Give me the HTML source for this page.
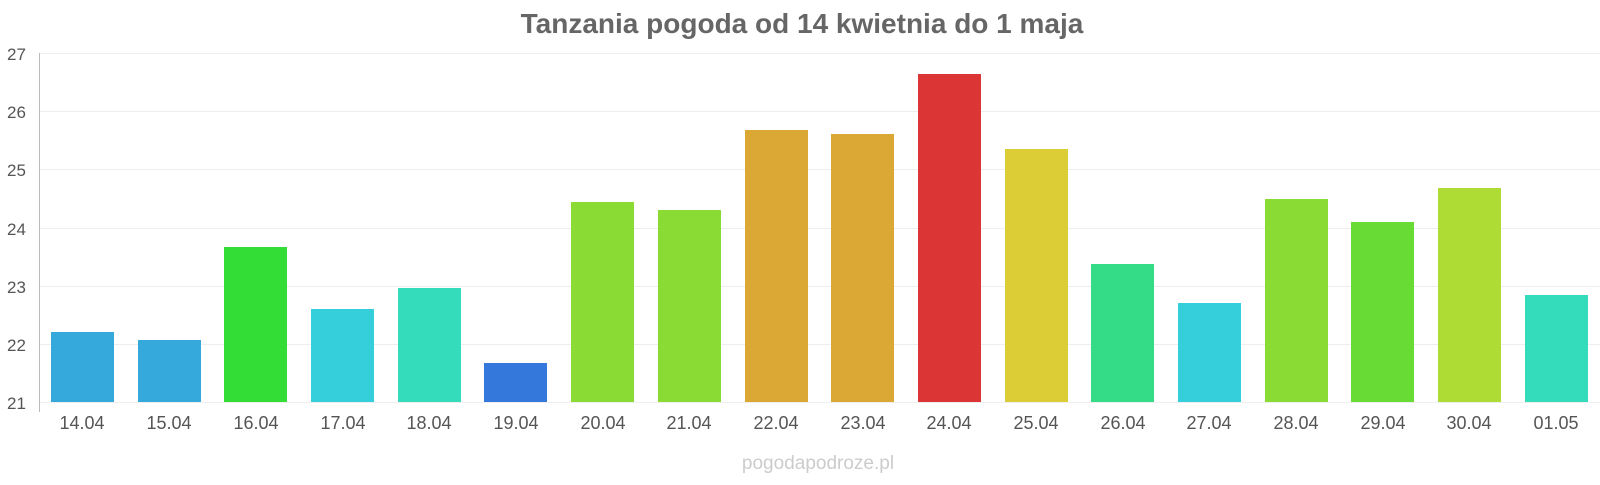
<!DOCTYPE html>
<html><head><meta charset="utf-8"><style>
body{margin:0;background:#fff;width:1600px;height:480px;overflow:hidden;font-family:"Liberation Sans",sans-serif}
</style></head><body>
<svg width="1600" height="480" xmlns="http://www.w3.org/2000/svg" font-family="Liberation Sans, sans-serif">
<text x="802" y="33" text-anchor="middle" font-size="28" font-weight="bold" fill="#666">Tanzania pogoda od 14 kwietnia do 1 maja</text>
<g stroke="#eee" stroke-width="1">
<line x1="39" x2="1600" y1="53.5" y2="53.5"/><line x1="39" x2="1600" y1="111.5" y2="111.5"/><line x1="39" x2="1600" y1="169.5" y2="169.5"/><line x1="39" x2="1600" y1="228.5" y2="228.5"/><line x1="39" x2="1600" y1="286.5" y2="286.5"/><line x1="39" x2="1600" y1="344.5" y2="344.5"/><line x1="39" x2="1600" y1="402.5" y2="402.5"/>
</g>
<line x1="39.5" x2="39.5" y1="53" y2="412" stroke="#bbb"/>
<g font-size="17" fill="#555" text-anchor="start">
<text x="7" y="60">27</text><text x="7" y="118">26</text><text x="7" y="176">25</text><text x="7" y="235">24</text><text x="7" y="293">23</text><text x="7" y="351">22</text><text x="7" y="409">21</text>
</g>
<g>
<rect x="51" y="332" width="63" height="70" fill="#35a8dc"/>
<rect x="138" y="340" width="63" height="62" fill="#35a8dc"/>
<rect x="224" y="247" width="63" height="155" fill="#34dc36"/>
<rect x="311" y="309" width="63" height="93" fill="#35cfdc"/>
<rect x="398" y="288" width="63" height="114" fill="#35dcbc"/>
<rect x="484" y="363" width="63" height="39" fill="#3478dc"/>
<rect x="571" y="202" width="63" height="200" fill="#8adc35"/>
<rect x="658" y="210" width="63" height="192" fill="#8adc35"/>
<rect x="745" y="130" width="63" height="272" fill="#dca835"/>
<rect x="831" y="134" width="63" height="268" fill="#dca835"/>
<rect x="918" y="74" width="63" height="328" fill="#dc3535"/>
<rect x="1005" y="149" width="63" height="253" fill="#dccc35"/>
<rect x="1091" y="264" width="63" height="138" fill="#35dc88"/>
<rect x="1178" y="303" width="63" height="99" fill="#35cfdc"/>
<rect x="1265" y="199" width="63" height="203" fill="#8adc35"/>
<rect x="1351" y="222" width="63" height="180" fill="#68dc35"/>
<rect x="1438" y="188" width="63" height="214" fill="#aedc35"/>
<rect x="1525" y="295" width="63" height="107" fill="#35dcbc"/>
</g>
<g font-size="18" fill="#555" text-anchor="middle">
<text x="82" y="429">14.04</text><text x="169" y="429">15.04</text><text x="256" y="429">16.04</text><text x="343" y="429">17.04</text><text x="429" y="429">18.04</text><text x="516" y="429">19.04</text><text x="603" y="429">20.04</text><text x="689" y="429">21.04</text><text x="776" y="429">22.04</text><text x="863" y="429">23.04</text><text x="949" y="429">24.04</text><text x="1036" y="429">25.04</text><text x="1123" y="429">26.04</text><text x="1209" y="429">27.04</text><text x="1296" y="429">28.04</text><text x="1383" y="429">29.04</text><text x="1469" y="429">30.04</text><text x="1556" y="429">01.05</text>
</g>
<text x="818" y="469" text-anchor="middle" font-size="19" fill="#ccc">pogodapodroze.pl</text>
</svg>
</body></html>
